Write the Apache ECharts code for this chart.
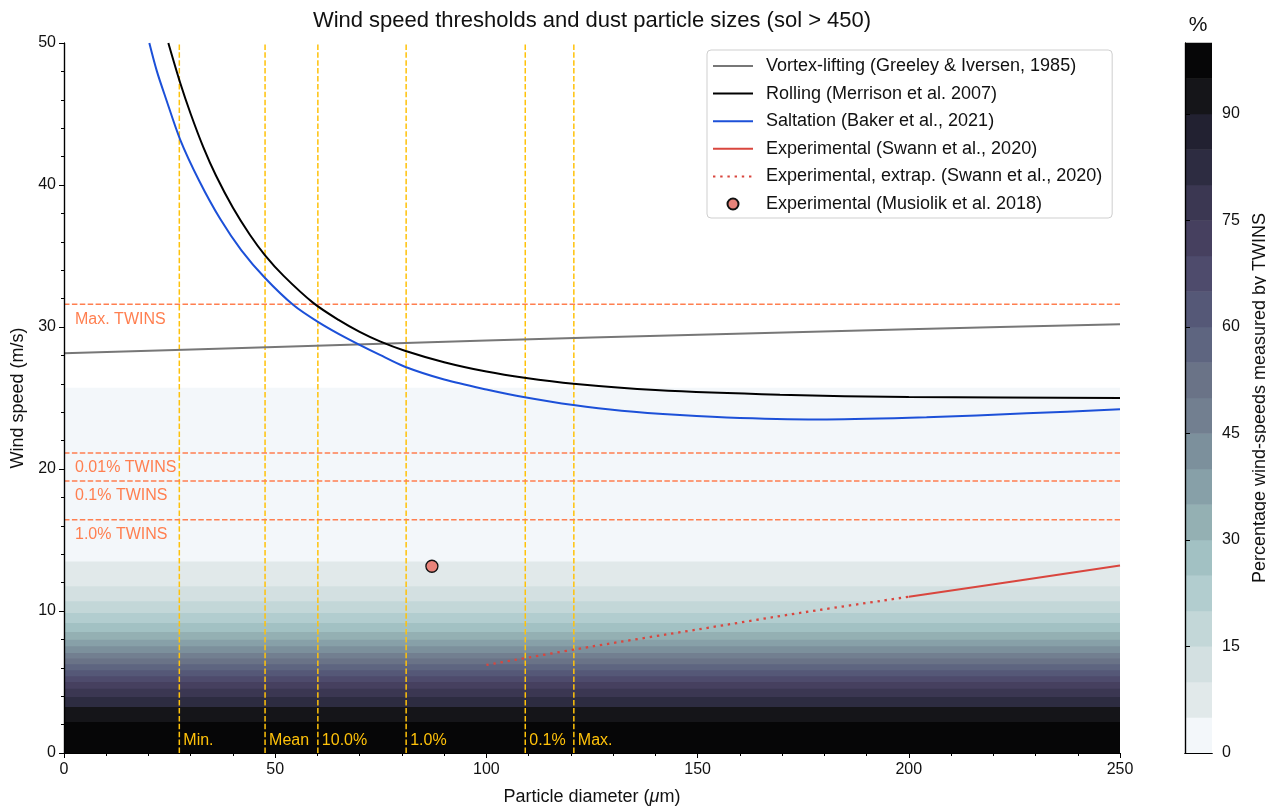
<!DOCTYPE html>
<html><head><meta charset="utf-8">
<script src="https://cdn.jsdelivr.net/npm/echarts@6/dist/echarts.min.js"></script>
<style>html,body{margin:0;padding:0;background:#fff;}#c{width:1266px;height:806px;}</style>
</head><body><div id="c"></div>
<script>
// ---------- data ----------
const vortexX = [0, 50, 100, 150, 200, 250];
const vortexY = [28.15, 28.6, 29.05, 29.45, 29.85, 30.2];

const rollingX = [24.7, 27.5, 30, 33, 36, 40, 44, 47.6, 52, 59, 65, 70, 74.8, 80.7, 90, 100, 109, 120.6, 140, 169.5, 200, 250];
const rollingY = [50, 47.2, 45.0, 42.65, 40.65, 38.4, 36.5, 35.05, 33.6, 31.7, 30.5, 29.66, 28.99, 28.33, 27.52, 26.86, 26.42, 26.0, 25.56, 25.23, 25.07, 25.0];

const saltX = [20.2, 22, 24, 27.5, 32, 37, 42, 47.6, 54.3, 60.2, 67, 74.8, 80.7, 90, 100, 109.1, 120.6, 132, 145.8, 160, 180.6, 204.2, 227.9, 250];
const saltY = [50, 48.0, 46.2, 43.2, 40.3, 37.6, 35.4, 33.45, 31.55, 30.35, 29.2, 28.03, 27.2, 26.3, 25.6, 25.05, 24.5, 24.1, 23.8, 23.6, 23.49, 23.64, 23.92, 24.2];

const swannX = [200, 225, 250];
const swannY = [11.0, 12.1, 13.2];
const extrapX = [100, 125, 150, 175, 200];
const extrapY = [6.2, 7.5, 8.7, 9.9, 11.0];

const musiolikX = [87.1];
const musiolikY = [13.15];

// background bands: wind-speed band limits and percentage of TWINS wind speeds
const bandLo  = [0,    2.2,  3.26, 3.96, 4.55, 5.02, 5.42, 5.85, 6.27, 6.67, 7.06, 7.54, 8.0,  8.54, 9.18, 9.88, 10.7, 11.76, 13.5];
const bandHi  = [2.2,  3.26, 3.96, 4.55, 5.02, 5.42, 5.85, 6.27, 6.67, 7.06, 7.54, 8.0,  8.54, 9.18, 9.88, 10.7, 11.76, 13.5, 25.7];
const bandPct = [97.5, 92.5, 82.5, 77.5, 72.5, 67.5, 62.5, 57.5, 52.5, 47.5, 42.5, 37.5, 32.5, 27.5, 22.5, 17.5, 12.5, 7.5, 2.5];

// TWINS wind-speed levels (horizontal) and particle size markers (vertical)
const twinsSpeeds = [31.6, 21.13, 19.15, 16.42];
const twinsLabels = ['Max. TWINS', '0.01% TWINS', '0.1% TWINS', '1.0% TWINS'];
const sizeX = [27.3, 47.6, 60.1, 81.0, 109.2, 120.7];
const sizeLabels = ['Min.', 'Mean', '10.0%', '1.0%', '0.1%', 'Max.'];

// colorbar
const cbLevels = [0,5,10,15,20,25,30,35,40,45,50,55,60,65,70,75,80,85,90,95,100];
const cbTicks = [0, 15, 30, 45, 60, 75, 90];

const seriesNames = ['Vortex-lifting (Greeley & Iversen, 1985)', 'Rolling (Merrison et al. 2007)', 'Saltation (Baker et al., 2021)',
                     'Experimental (Swann et al., 2020)', 'Experimental, extrap. (Swann et al., 2020)', 'Experimental (Musiolik et al. 2018)'];

// ---------- style ----------
const FONT = "'Liberation Sans', Arial, sans-serif";
const CMAP = ['#f3f7fa','#e1e9ea','#d3e0e1','#c3d7d8','#b2cdcf','#a2c1c3','#94b0b3','#87a0a8','#7c909c','#727f90',
              '#6a7387','#5e6580','#555877','#4e4b6c','#46405f','#3b3752','#2d2c41','#222131','#151519','#060607'];
const colorFor = p => CMAP[Math.max(0, Math.min(19, Math.floor(p / 5)))];
const GOLD = '#FFC20A';
const CORAL = '#FF7F50';
const RED = '#d9463e';

const pairs = (xs, ys) => xs.map((x, i) => [x, ys[i]]);

const chart = echarts.init(document.getElementById('c'), null, {renderer: 'canvas'});

const bandData = bandLo.map((lo, i) => [lo, bandHi[i], bandPct[i]]);
const cbData = cbLevels.slice(0, -1).map((lo, i) => [lo, cbLevels[i + 1]]);

const axisCommon = {
  axisLine: {show: true, lineStyle: {color: '#000', width: 1.2}},
  splitLine: {show: false},
  z: 10
};

const option = {
  animation: false,
  backgroundColor: '#fff',
  textStyle: {fontFamily: FONT},
  grid: [
    {left: 64, top: 43, width: 1056, height: 710, containLabel: false, outerBoundsMode: 'none'},
    {left: 1185, top: 43, width: 27, height: 710, containLabel: false, outerBoundsMode: 'none'}
  ],
  graphic: [
    {type: 'text', x: 592, y: 21, style: {text: 'Wind speed thresholds and dust particle sizes (sol > 450)', fill: '#111', font: '22px ' + FONT, align: 'center', verticalAlign: 'middle'}},
    {type: 'text', x: 1198, y: 25, style: {text: '%', fill: '#111', font: '21px ' + FONT, align: 'center', verticalAlign: 'middle'}}
  ],
  xAxis: [
    Object.assign({}, axisCommon, {
      type: 'value', gridIndex: 0, position: 'bottom', min: 0, max: 250, interval: 50,
      name: 'Particle diameter ({i|μ}m)', nameLocation: 'middle', nameGap: 35,
      nameTextStyle: {fontSize: 18, color: '#111', fontFamily: FONT, rich: {i: {fontStyle: 'italic', fontSize: 18, fontFamily: FONT}}},
      axisTick: {show: true, inside: false, length: 5, lineStyle: {color: '#000'}},
      minorTick: {show: true, splitNumber: 5, length: 3, lineStyle: {color: '#000'}},
      axisLabel: {fontSize: 16, color: '#111', margin: 9, fontFamily: FONT}
    }),
    Object.assign({}, axisCommon, {type: 'value', gridIndex: 0, position: 'top', min: 0, max: 250, axisTick: {show: false}, axisLabel: {show: false}}),
    Object.assign({}, axisCommon, {type: 'value', gridIndex: 1, position: 'bottom', min: 0, max: 1, axisTick: {show: false}, axisLabel: {show: false}}),
    Object.assign({}, axisCommon, {type: 'value', gridIndex: 1, position: 'top', min: 0, max: 1, axisTick: {show: false}, axisLabel: {show: false}})
  ],
  yAxis: [
    Object.assign({}, axisCommon, {
      type: 'value', gridIndex: 0, position: 'left', min: 0, max: 50, interval: 10,
      name: 'Wind speed (m/s)', nameLocation: 'middle', nameGap: 35, nameRotate: 90,
      nameTextStyle: {fontSize: 18, color: '#111', fontFamily: FONT},
      axisTick: {show: true, inside: false, length: 5, lineStyle: {color: '#000'}},
      minorTick: {show: true, splitNumber: 5, length: 3, lineStyle: {color: '#000'}},
      axisLabel: {fontSize: 16, color: '#111', margin: 8, fontFamily: FONT}
    }),
    Object.assign({}, axisCommon, {type: 'value', gridIndex: 0, position: 'right', min: 0, max: 50, axisTick: {show: false}, axisLabel: {show: false}}),
    Object.assign({}, axisCommon, {
      type: 'value', gridIndex: 1, position: 'right', min: 0, max: 100,
      name: 'Percentage wind-speeds measured by TWINS', nameLocation: 'middle', nameGap: 39, nameRotate: 90,
      nameTextStyle: {fontSize: 18, color: '#111', fontFamily: FONT},
      axisTick: {show: true, inside: false, length: 5, customValues: cbTicks, lineStyle: {color: '#000'}},
      axisLabel: {fontSize: 16, color: '#111', margin: 10, customValues: cbTicks, fontFamily: FONT}
    }),
    Object.assign({}, axisCommon, {type: 'value', gridIndex: 1, position: 'left', min: 0, max: 100, axisTick: {show: false}, axisLabel: {show: false}})
  ],
  legend: {
    orient: 'vertical', left: 707, top: 50,
    padding: [7, 10, 5, 5], itemWidth: 40, itemHeight: 11, itemGap: 9.6,
    backgroundColor: '#fff', borderColor: '#cfcfcf', borderWidth: 1, borderRadius: 4,
    textStyle: {fontSize: 18, color: '#111', fontFamily: FONT, padding: [0, 0, 0, 8]},
    data: seriesNames.map((n, i) => i < 5 ? {name: n, itemStyle: {opacity: 0}} : {name: n}),
    z: 20
  },
  series: [
    {
      type: 'custom', name: 'bands', xAxisIndex: 0, yAxisIndex: 0, z: 1, silent: true,
      data: bandData,
      renderItem: (params, api) => {
        const lo = api.value(0), hi = api.value(1), pct = api.value(2);
        const p0 = api.coord([0, hi]);
        const p1 = api.coord([250, lo]);
        return {type: 'rect', shape: {x: p0[0], y: p0[1] - 0.3, width: p1[0] - p0[0], height: p1[1] - p0[1] + 0.6},
                style: {fill: colorFor(pct)}};
      }
    },
    {
      type: 'custom', name: 'sizes', xAxisIndex: 0, yAxisIndex: 0, z: 3, silent: true,
      data: sizeX.map((x, i) => [x, i]),
      renderItem: (params, api) => {
        const x = api.value(0);
        const p0 = api.coord([x, 0]);
        const p1 = api.coord([x, 50]);
        return {type: 'group', children: [
          {type: 'line', shape: {x1: p0[0], y1: p0[1], x2: p1[0], y2: p1[1]},
           style: {stroke: GOLD, lineWidth: 1.5, lineDash: [5.5, 2.4]}},
          {type: 'text', x: p0[0] + 4, y: p0[1] - 12,
           style: {text: sizeLabels[params.dataIndex], fill: GOLD, font: '16px ' + FONT, align: 'left', verticalAlign: 'middle'}}
        ]};
      }
    },
    {
      type: 'custom', name: 'twins', xAxisIndex: 0, yAxisIndex: 0, z: 3, silent: true,
      data: twinsSpeeds.map((y, i) => [0, y]),
      renderItem: (params, api) => {
        const y = api.value(1);
        const p0 = api.coord([0, y]);
        const p1 = api.coord([250, y]);
        return {type: 'group', children: [
          {type: 'line', shape: {x1: p0[0], y1: p0[1], x2: p1[0], y2: p1[1]},
           style: {stroke: CORAL, lineWidth: 1.5, lineDash: [5.5, 2.4]}},
          {type: 'text', x: p0[0] + 11, y: p0[1] + 15,
           style: {text: twinsLabels[params.dataIndex], fill: CORAL, font: '16px ' + FONT, align: 'left', verticalAlign: 'middle'}}
        ]};
      }
    },
    {
      type: 'line', name: seriesNames[0], xAxisIndex: 0, yAxisIndex: 0, z: 4,
      data: pairs(vortexX, vortexY), showSymbol: false, symbol: 'none', smooth: 0.3,
      lineStyle: {color: '#777777', width: 2}, itemStyle: {color: '#777777'}
    },
    {
      type: 'line', name: seriesNames[1], xAxisIndex: 0, yAxisIndex: 0, z: 4,
      data: pairs(rollingX, rollingY), showSymbol: false, symbol: 'none', smooth: 0.3,
      lineStyle: {color: '#000000', width: 2}, itemStyle: {color: '#000000'}
    },
    {
      type: 'line', name: seriesNames[2], xAxisIndex: 0, yAxisIndex: 0, z: 4,
      data: pairs(saltX, saltY), showSymbol: false, symbol: 'none', smooth: 0.3,
      lineStyle: {color: '#1c50d8', width: 2}, itemStyle: {color: '#1c50d8'}
    },
    {
      type: 'line', name: seriesNames[3], xAxisIndex: 0, yAxisIndex: 0, z: 4,
      data: pairs(swannX, swannY), showSymbol: false, symbol: 'none',
      lineStyle: {color: RED, width: 2}, itemStyle: {color: RED}
    },
    {
      type: 'line', name: seriesNames[4], xAxisIndex: 0, yAxisIndex: 0, z: 4,
      data: pairs(extrapX, extrapY), showSymbol: false, symbol: 'none', smooth: 0.3,
      lineStyle: {color: RED, width: 2.3, type: [2.4, 4.8]}, itemStyle: {color: RED}
    },
    {
      type: 'scatter', name: seriesNames[5], xAxisIndex: 0, yAxisIndex: 0, z: 5,
      data: pairs(musiolikX, musiolikY), symbol: 'circle', symbolSize: 12,
      itemStyle: {color: '#e8837a', borderColor: '#111', borderWidth: 1.3, opacity: 1}
    },
    {
      type: 'custom', name: 'colorbar', xAxisIndex: 2, yAxisIndex: 2, z: 1, silent: true,
      data: cbData,
      renderItem: (params, api) => {
        const lo = api.value(0), hi = api.value(1);
        const p0 = api.coord([0, hi]);
        const p1 = api.coord([1, lo]);
        return {type: 'rect', shape: {x: p0[0], y: p0[1] - 0.3, width: p1[0] - p0[0], height: p1[1] - p0[1] + 0.6},
                style: {fill: colorFor((lo + hi) / 2)}};
      }
    }
  ]
};
chart.setOption(option);
</script>
</body></html>
